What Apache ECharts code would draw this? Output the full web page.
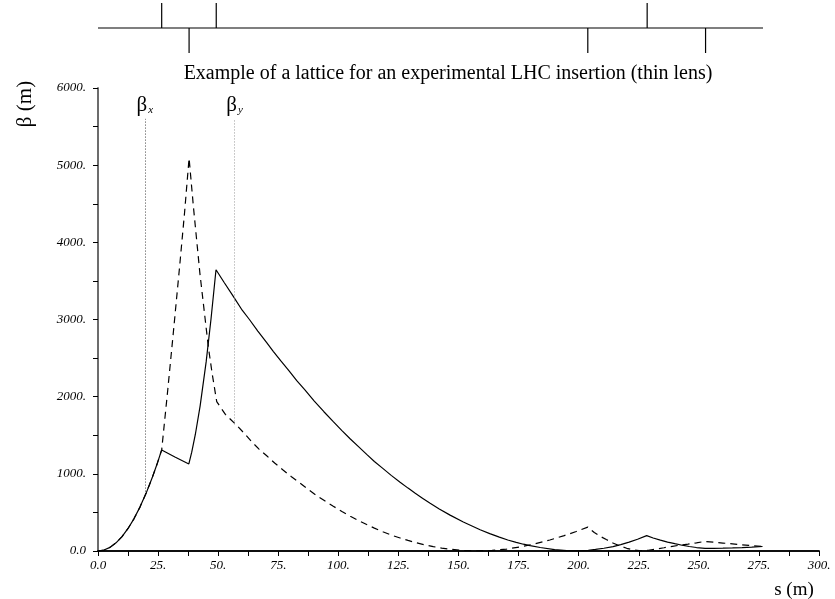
<!DOCTYPE html>
<html>
<head>
<meta charset="utf-8">
<script src="https://cdn.jsdelivr.net/npm/echarts@6/dist/echarts.min.js"></script>
<style>
  html, body { margin: 0; padding: 0; background: #fff; }
  #main { width: 835px; height: 599px; }
</style>
</head>
<body>
<div id="main"></div>
<script>
// beta functions, [s (m), beta (m)]
var betaX = [
  [0, 0], [2.5, 12], [5, 47], [7.5, 106], [10, 187], [12.5, 292], [15, 420], [17.5, 572],
  [20, 747], [22.5, 945], [24.5, 1120], [26.5, 1310],
  [32, 1218], [37.8, 1128], [39, 1280], [40.5, 1510], [42.5, 1880], [45, 2450], [47, 3000], [49.1, 3645],
  [52.5, 3480], [56.3, 3300], [60, 3120], [63, 3000], [66.5, 2850], [70.2, 2700],
  [73, 2585], [76, 2466], [79.5, 2335], [82.7, 2207], [86, 2090], [90, 1943],
  [94, 1805], [97.9, 1676], [101.5, 1560], [105, 1451], [108.5, 1350], [111.8, 1252],
  [115, 1160], [118.5, 1071], [122, 980], [125.7, 891], [129, 815], [132, 747],
  [135, 685], [138.2, 618], [142, 545], [146.5, 465], [152, 375], [159, 275],
  [163, 225], [167, 179], [170.5, 143], [174, 112], [177, 88], [179.8, 69],
  [184, 45], [190, 18], [195, 6], [200.6, 3], [204, 8], [207, 20], [210.5, 36],
  [214.3, 56], [217.5, 82], [221, 115], [224.5, 152], [228.3, 199],
  [231, 168], [234, 140], [237, 116], [240, 95], [243, 75], [246, 58], [249, 45],
  [252.6, 35], [256, 35], [260, 37], [264, 40], [268, 44], [272, 50], [276.5, 58]
];
var betaY = [
  [0, 0], [2.5, 12], [5, 47], [7.5, 106], [10, 187], [12.5, 292], [15, 420], [17.5, 572],
  [20, 747], [22.5, 945], [24.5, 1120], [26.5, 1310],
  [29, 2080], [31.5, 2880], [34, 3700], [36, 4380], [37.9, 5090],
  [39.7, 4462], [42.4, 3598], [45.9, 2648], [47.5, 2300], [49.4, 1935],
  [53, 1770], [57.7, 1630], [61, 1520], [64, 1414], [67, 1320], [70.2, 1234],
  [73.5, 1140], [77, 1050], [80.5, 962], [84.1, 880], [87.5, 797], [91, 718],
  [94.5, 648], [97.9, 580], [101.5, 512], [105, 450], [108.5, 394], [111.8, 343],
  [115, 296], [118.5, 250], [122, 207], [125.7, 168], [129, 137], [132, 110],
  [135.5, 82], [139.5, 57], [143, 38], [146.5, 23], [152, 7], [158, 2], [164, 8],
  [170, 25], [176, 54], [182, 94], [188, 142], [194, 200], [199, 252], [203.8, 310],
  [206.5, 240], [209, 190], [211.5, 148], [214.5, 100], [217, 68], [220, 35],
  [223, 14], [226, 3], [229, 10], [232, 25], [235.5, 42], [239, 60], [242, 75],
  [245.5, 90], [249, 106], [252.6, 124], [256, 114], [260, 103], [264, 92],
  [268, 80], [272, 70], [276.5, 58]
];

// thin lens quadrupoles: position and sign (+1 focusing, -1 defocusing)
var quadS = [26.5, 37.9, 49.2, 203.8, 228.5, 252.8];
var quadK = [1, -1, 1, -1, 1, -1];
var latticeEnd = 276.7;

// label markers: [s, bottom beta, top beta]
var markX = [19.5, 770, 5600];
var markY = [56.8, 1640, 5600];

var serif = '"Liberation Serif", "DejaVu Serif", serif';

var chart = echarts.init(document.getElementById('main'));

function xLabel(v) {
  if (v % 25 !== 0) return '';
  return v === 0 ? '0.0' : v + '.';
}
function yLabel(v) {
  if (v % 1000 !== 0) return '';
  return v === 0 ? '0.0' : v + '.';
}

var quadData = quadS.map(function (s, i) { return [s, quadK[i]]; });

function betaLabel(sub) {
  return {
    position: 'end', distance: 3,
    formatter: '{b|β}{s|' + sub + '}',
    rich: {
      b: { fontFamily: serif, fontSize: 21, color: '#000' },
      s: { fontFamily: serif, fontSize: 11, fontStyle: 'italic', color: '#000', padding: [9, 0, 0, 1] }
    }
  };
}

var option = {
  animation: false,
  backgroundColor: '#fff',
  title: {
    text: 'Example of a lattice for an experimental LHC insertion (thin lens)',
    left: 443,
    top: 59,
    textAlign: 'center',
    textStyle: { fontFamily: serif, fontSize: 20, fontWeight: 'normal', color: '#000' }
  },
  grid: [
    { left: 98, right: 16, top: 88, bottom: 48 },
    { left: 98, right: 16, top: 3, height: 50 }
  ],
  xAxis: [
    {
      type: 'value', gridIndex: 0, position: 'bottom', min: 0, max: 300, interval: 12.5,
      axisLine: { lineStyle: { color: '#000', width: 1.5 } },
      axisTick: { length: 5, lineStyle: { color: '#000' } },
      axisLabel: { formatter: xLabel, fontFamily: serif, fontStyle: 'italic', fontSize: 13, color: '#000', margin: 8 },
      splitLine: { show: false }
    },
    {
      type: 'value', gridIndex: 0, position: 'top', min: 0, max: 300, interval: 12.5,
      axisLine: { lineStyle: { color: '#000', width: 1.5 } },
      axisTick: { inside: true, length: 5, lineStyle: { color: '#000' } },
      axisLabel: { show: false },
      splitLine: { show: false }
    },
    {
      type: 'value', gridIndex: 1, min: 0, max: 300, show: false
    }
  ],
  yAxis: [
    {
      type: 'value', gridIndex: 0, position: 'left', min: 0, max: 6000, interval: 500,
      axisLine: { show: true, lineStyle: { color: '#555', width: 1.5 } },
      axisTick: { show: true, length: 5, lineStyle: { color: '#000' } },
      axisLabel: { formatter: yLabel, fontFamily: serif, fontStyle: 'italic', fontSize: 13, color: '#000', margin: 12 },
      splitLine: { show: false }
    },
    {
      type: 'value', gridIndex: 0, position: 'right', min: 0, max: 6000,
      axisLine: { show: true, lineStyle: { color: '#666', width: 1.5 } },
      axisTick: { show: false },
      axisLabel: { show: false },
      splitLine: { show: false }
    },
    {
      type: 'value', gridIndex: 1, min: -1, max: 1, show: false
    }
  ],
  series: [
    {
      name: 'betax', type: 'line', xAxisIndex: 0, yAxisIndex: 0, data: betaX,
      showSymbol: false, symbol: 'none',
      lineStyle: { color: '#000', width: 1.2 },
      markLine: {
        symbol: 'none', silent: true,
        lineStyle: { color: '#444', width: 1, type: [1, 2] },
        label: betaLabel('x'),
        data: [[{ coord: [markX[0], markX[1]] }, { coord: [markX[0], markX[2]] }]]
      }
    },
    {
      name: 'betay', type: 'line', xAxisIndex: 0, yAxisIndex: 0, data: betaY,
      showSymbol: false, symbol: 'none',
      lineStyle: { color: '#000', width: 1.2, type: [7, 5] },
      markLine: {
        symbol: 'none', silent: true,
        lineStyle: { color: '#999', width: 1, type: [1, 2] },
        label: betaLabel('y'),
        data: [[{ coord: [markY[0], markY[1]] }, { coord: [markY[0], markY[2]] }]]
      }
    },
    {
      name: 'lattice', type: 'line', xAxisIndex: 2, yAxisIndex: 2,
      data: [[0, 0], [latticeEnd, 0]], symbol: 'none',
      lineStyle: { color: '#000', width: 1.2 }
    },
    {
      name: 'quads', type: 'custom', xAxisIndex: 2, yAxisIndex: 2, data: quadData,
      renderItem: function (params, api) {
        var a = api.coord([api.value(0), 0]);
        var b = api.coord([api.value(0), api.value(1)]);
        return {
          type: 'line',
          shape: { x1: a[0], y1: a[1], x2: b[0], y2: b[1] },
          style: { stroke: '#000', lineWidth: 1.2 }
        };
      }
    }
  ],
  graphic: [
    {
      type: 'text', x: 25, y: 104, rotation: Math.PI / 2,
      style: { text: 'β (m)', font: '21px ' + serif, fill: '#000', textAlign: 'center', textVerticalAlign: 'middle' }
    },
    {
      type: 'text', x: 794, y: 590,
      style: { text: 's (m)', font: '19px ' + serif, fill: '#000', textAlign: 'center', textVerticalAlign: 'middle' }
    }
  ]
};

chart.setOption(option);
</script>
</body>
</html>
